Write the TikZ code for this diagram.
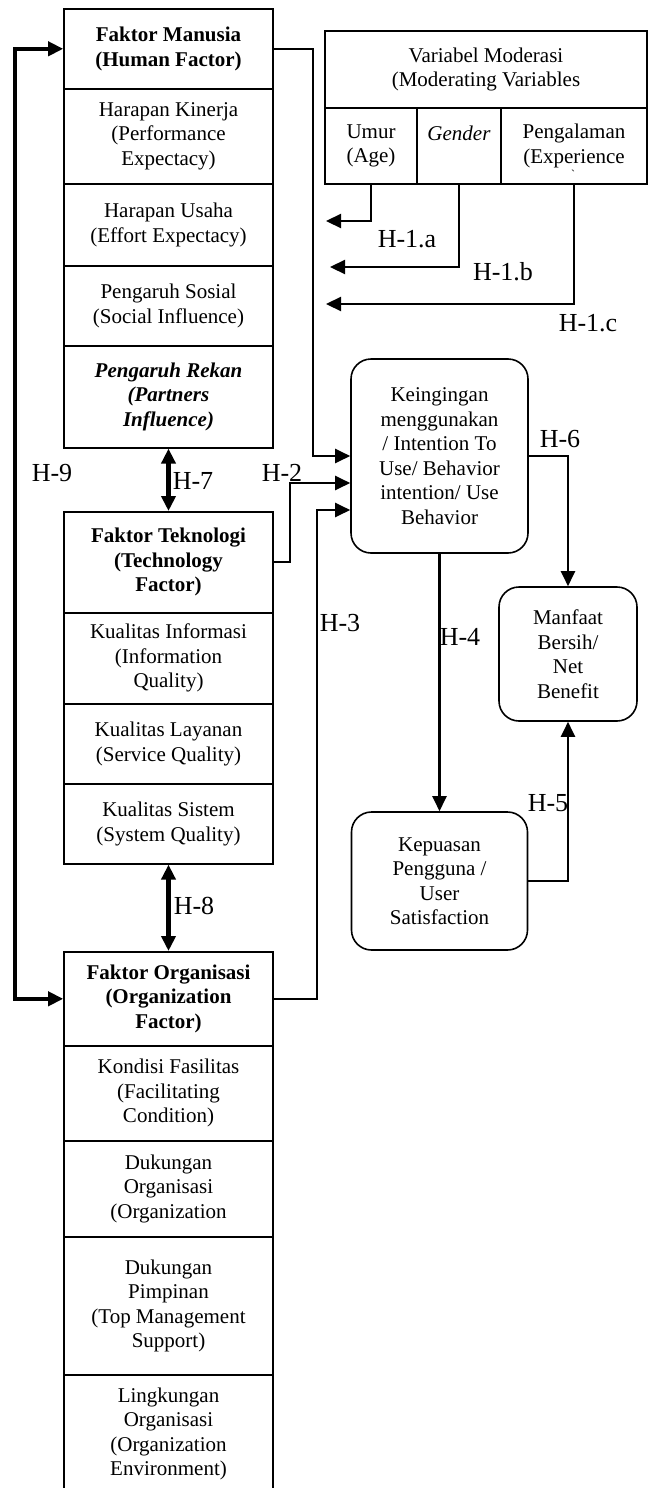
\documentclass[tikz,border=0pt]{standalone}
\usepackage{fontspec}
\setmainfont{Liberation Serif}
\usepackage{xcolor}
\usepackage{tikz}
\usetikzlibrary{calc,arrows.meta}
\definecolor{bg}{HTML}{FFFFFF}
\definecolor{ink}{HTML}{000000}
\tikzset{
  cell/.style={draw=ink, line width=1.6pt, inner sep=0pt, anchor=north,
    minimum width=209pt, align=center, text=ink,
    font=\fontsize{21}{24.5}\selectfont},
  rbox/.style={draw=ink, line width=1.6pt, inner sep=0pt,
    rounded corners=20pt, align=center, text=ink,
    font=\fontsize{21}{24.5}\selectfont},
  link/.style={draw=ink, line width=2.2pt,
    -{Triangle[length=15pt,width=14pt]}},
  both/.style={draw=ink, line width=4.5pt,
    {Triangle[length=15pt,width=14pt]}-{Triangle[length=15pt,width=14pt]}},
  hlab/.style={font=\fontsize{26}{28}\selectfont, text=ink, inner sep=0pt}
}

\begin{document}
\begin{tikzpicture}[x=1pt,y=-1pt]
  \fill[bg] (0,0) rectangle (648,1488);
  \useasboundingbox (0,0) rectangle (648,1488);

  % human factor stack
  \node[cell, minimum height=80pt] (hf1) at (168.5,8) {\textbf{Faktor Manusia}\\\textbf{(Human Factor)}};
  \node[cell, minimum height=95pt] (hf2) at (168.5,88) {Harapan Kinerja\\(Performance\\Expectacy)};
  \node[cell, minimum height=82pt] (hf3) at (168.5,183) {Harapan Usaha\\(Effort Expectacy)};
  \node[cell, minimum height=80pt] (hf4) at (168.5,265) {Pengaruh Sosial\\(Social Influence)};
  \node[cell, minimum height=102pt] (hf5) at (168.5,345) {\textbf{\textit{Pengaruh Rekan}}\\\textbf{\textit{(Partners}}\\\textbf{\textit{Influence)}}};

  % technology factor stack
  \node[cell, minimum height=101pt] (tf1) at (168.5,511) {\textbf{Faktor Teknologi}\\\textbf{(Technology}\\\textbf{Factor)}};
  \node[cell, minimum height=91pt] (tf2) at (168.5,612) {Kualitas Informasi\\(Information\\Quality)};
  \node[cell, minimum height=80pt] (tf3) at (168.5,703) {Kualitas Layanan\\(Service Quality)};
  \node[cell, minimum height=80pt] (tf4) at (168.5,783) {Kualitas Sistem\\(System Quality)};

  % organization factor stack
  \node[cell, minimum height=94pt] (of1) at (168.5,951) {\textbf{Faktor Organisasi}\\\textbf{(Organization}\\\textbf{Factor)}};
  \node[cell, minimum height=95pt] (of2) at (168.5,1045) {Kondisi Fasilitas\\(Facilitating\\Condition)};
  \node[cell, minimum height=96pt] (of3) at (168.5,1140) {Dukungan\\Organisasi\\(Organization};
  \node[cell, minimum height=138pt] (of4) at (168.5,1236) {Dukungan\\Pimpinan\\(Top Management\\Support)};
  \node[cell, minimum height=118pt] (of5) at (168.5,1374) {Lingkungan\\Organisasi\\(Organization\\Environment)};

  % moderating variables
  \node[cell, minimum width=322pt, minimum height=77pt] (modv) at (486,30) {Variabel Moderasi\\(Moderating Variables};
  \node[cell, minimum width=92pt, minimum height=76pt] (umur) at (371,107) {Umur\\(Age)};
  \node[cell, minimum width=84pt, minimum height=76pt] (gender) at (459,107) {\textit{Gender}\\\mbox{}};
  \node[cell, minimum width=146pt, minimum height=76pt] (exper) at (574,107) {Pengalaman\\(Experience};
  \node[font=\fontsize{12}{12}\selectfont, inner sep=0pt] (grv) at (573,174) {\textasciigrave};

  % outcome boxes
  \node[rbox, minimum width=177pt, minimum height=194pt] (intent) at (439.5,456) {Keingingan\\menggunakan\\/ Intention To\\Use/ Behavior\\intention/ Use\\Behavior};
  \node[rbox, minimum width=138pt, minimum height=134pt] (manfaat) at (568,654) {Manfaat\\Bersih/\\Net\\Benefit};
  \node[rbox, minimum width=176pt, minimum height=138pt] (puas) at (439.5,881) {Kepuasan\\Pengguna /\\User\\Satisfaction};

  % free ends of the moderating arrows
  \coordinate (h1a) at (326,221);
  \coordinate (h1b) at (330,267);
  \coordinate (h1c) at (326,304);
  \foreach \src/\dst in {umur/h1a, gender/h1b, exper/h1c}{
    \draw[link] (\src.south) |- (\dst);
  }

  \draw[link] (hf1.east) -- ++(39,0) |- (intent.west);
  \draw[link] (tf1.east) -- ++(16,0) |- ([yshift=-27pt]intent.west);
  \draw[link] (of1.east) -- ++(43,0) |- ([yshift=-54pt]intent.west);
  \draw[link] (intent.east) -| (manfaat.north);
  \draw[link] (intent.south) -- (puas.north);
  \draw[link] (puas.east) -| (manfaat.south);

  \draw[both] (hf5.south) -- (tf1.north);
  \draw[both] (tf4.south) -- (of1.north);
  \draw[both] (hf1.west) -- ++(-48,0) |- (of1.west);

  % hypothesis labels
  \node[hlab] (l1a) at (407,239) {H-1.a};
  \node[hlab] (l1b) at (503,272) {H-1.b};
  \node[hlab] (l1c) at (588,323) {H-1.c};
  \node[hlab] (l2) at (282,473) {H-2};
  \node[hlab] (l3) at (340,623) {H-3};
  \node[hlab] (l4) at (460,637) {H-4};
  \node[hlab] (l5) at (548,803) {H-5};
  \node[hlab] (l6) at (560,439) {H-6};
  \node[hlab] (l7) at (193,481) {H-7};
  \node[hlab] (l8) at (194,906) {H-8};
  \node[hlab] (l9) at (52,473) {H-9};
\end{tikzpicture}
\end{document}
